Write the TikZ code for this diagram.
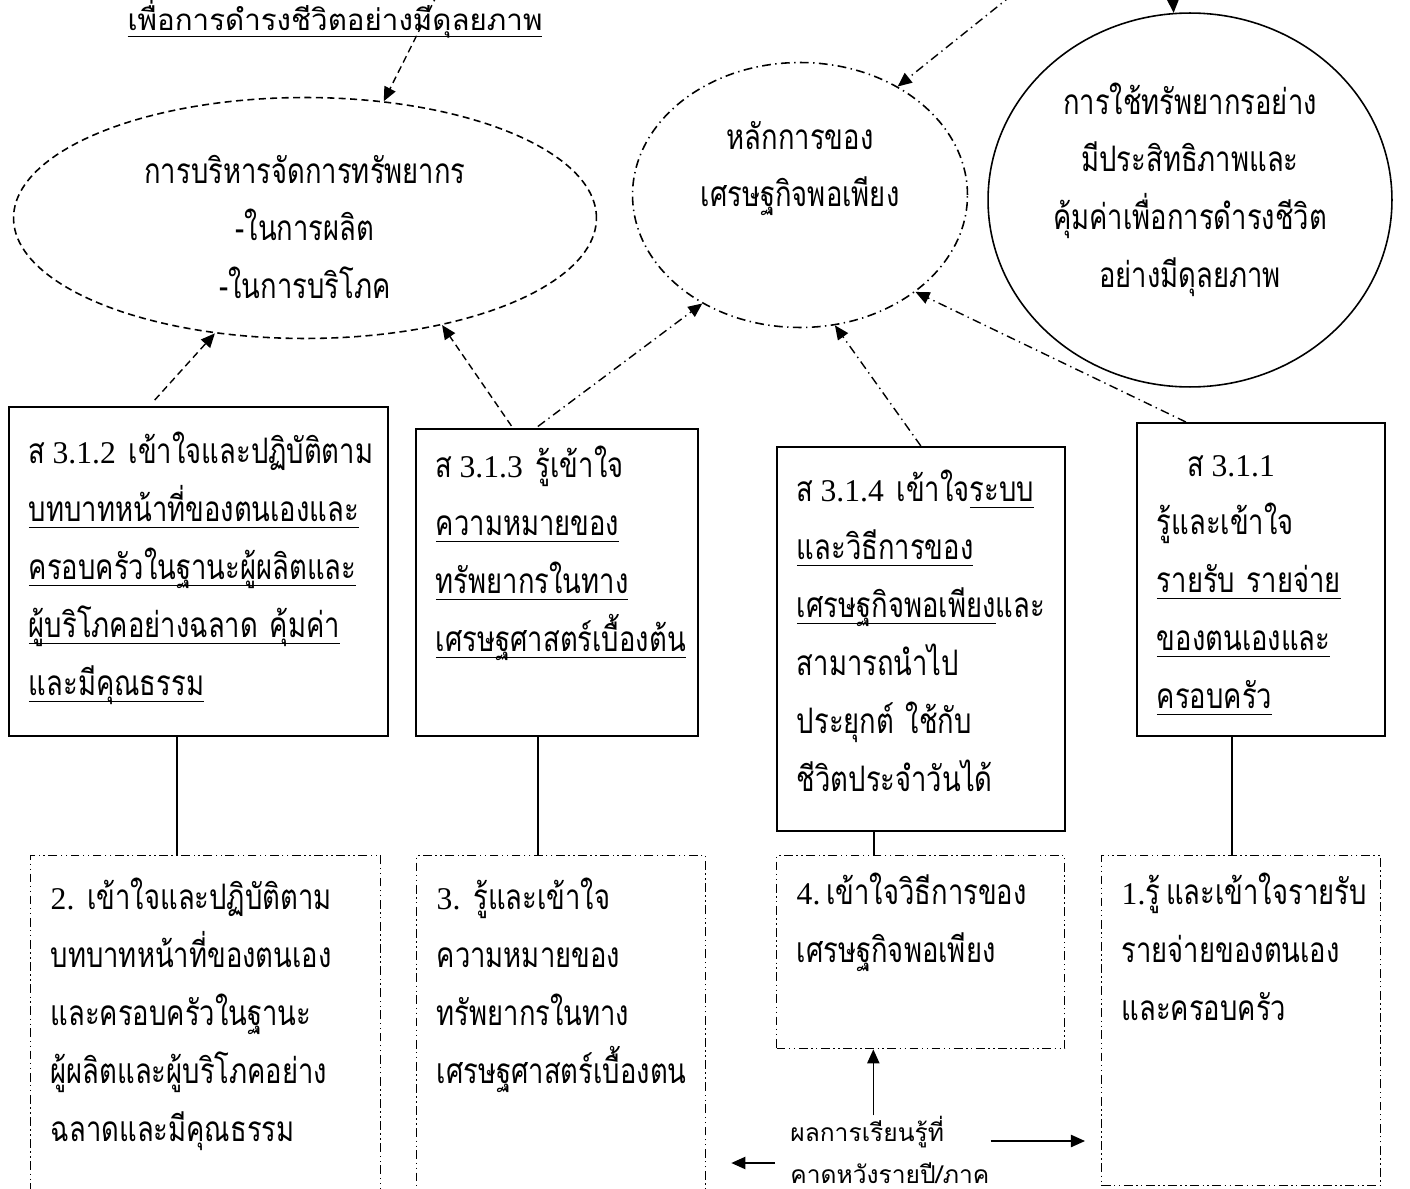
\documentclass[tikz,border=0pt]{standalone}
\usepackage{fontspec}
\usepackage{tikz}
\usetikzlibrary{arrows.meta, positioning, shapes.geometric}
\newfontfamily\thaiserif[Script=Thai, FakeStretch=0.78]{Loma}
\newfontfamily\thaisans[Script=Thai]{Loma}
\newfontfamily\latinserif{Liberation Serif}
\newcommand\ulthai[1]{\leavevmode\sbox0{#1}\rlap{\rule[-3.5pt]{\wd0}{0.7pt}}\usebox0}
\newcommand\stdno[1]{{\latinserif\fontsize{18}{33}\selectfont #1}}

\begin{document}
\begin{tikzpicture}[
  x=0.02cm, y=-0.02cm,
  font=\thaiserif\fontsize{20}{33}\selectfont,
  goal/.style={ellipse, draw, line width=0.9pt, align=center, inner sep=0pt},
  frame/.style={rectangle, draw, line width=1pt, align=left, anchor=north west, inner xsep=0.4cm, inner ysep=0pt},
  outcome/.style={frame, line width=0.8pt, dash pattern=on 5pt off 2pt on 0.8pt off 2pt on 0.8pt off 2pt},
  dashline/.style={dash pattern=on 4pt off 2.5pt},
  dotline/.style={dash pattern=on 5pt off 2.5pt on 0.8pt off 2.5pt},
  link/.style={-{Triangle[length=8pt, width=7pt]}, line width=0.8pt},
  stem/.style={line width=0.8pt}
]
\useasboundingbox (0,0) rectangle (1410,1189);

% top goals
\node[font=\thaisans\fontsize{16.8}{20}\selectfont, anchor=base] (title) at (335,31) {\ulthai{เพื่อการดำรงชีวิตอย่างมีดุลยภาพ}};
\node[goal, dashline, minimum width=11.66cm, minimum height=4.82cm, text width=8cm, text height=0.5cm, text depth=1.9cm] (manage) at (305,218) {การบริหารจัดการทรัพยากร\\-ในการผลิต\\-ในการบริโภค};
\node[goal, dotline, minimum width=6.7cm, minimum height=5.3cm, text width=4.5cm, text height=0.48cm, text depth=2.32cm] (principle) at (800,195) {หลักการของ\\เศรษฐกิจพอเพียง};
\node[goal, minimum width=8.08cm, minimum height=7.48cm, text width=5.6cm, text height=0.28cm, text depth=3.72cm] (balance) at (1190,200) {การใช้ทรัพยากรอย่าง\\มีประสิทธิภาพและ\\คุ้มค่าเพื่อการดำรงชีวิต\\อย่างมีดุลยภาพ};

% standards
\node[frame, text width=6.78cm, text height=1.14cm, text depth=5.44cm] (boxA) at (8,406) {ส\kern0.14cm\stdno{3.1.2}\kern0.26cm เข้าใจและปฏิบัติตาม\\\ulthai{บทบาทหน้าที่ของตนเองและ}\\\ulthai{ครอบครัวในฐานะผู้ผลิตและ}\\\ulthai{ผู้บริโภคอย่างฉลาด คุ้มค่า}\\\ulthai{และมีคุณธรรม}};
\node[frame, text width=4.84cm, text height=0.98cm, text depth=5.16cm] (boxB) at (415,428) {ส\kern0.14cm\stdno{3.1.3}\kern0.26cm รู้เข้าใจ\\\ulthai{ความหมายของ}\\\ulthai{ทรัพยากรในทาง}\\\ulthai{เศรษฐศาสตร์เบื้องต้น}};
\node[frame, text width=4.96cm, text height=1.1cm, text depth=6.58cm] (boxC) at (776,446) {ส\kern0.14cm\stdno{3.1.4}\kern0.26cm เข้าใจ\ulthai{ระบบ}\\\ulthai{และวิธีการของ}\\\ulthai{เศรษฐกิจพอเพียง}และ\\สามารถนำไป\\ประยุกต์ ใช้กับ\\ชีวิตประจำวันได้};
\node[frame, text width=4.16cm, text height=1.08cm, text depth=5.18cm] (boxD) at (1136,422) {\hspace*{0.62cm}ส\kern0.14cm\stdno{3.1.1}\\รู้และเข้าใจ\\\ulthai{รายรับ รายจ่าย}\\\ulthai{ของตนเองและ}\\\ulthai{ครอบครัว}};

% yearly outcomes
\node[outcome, text width=6.2cm, text height=1.08cm, text depth=5.82cm] (boxE) at (30,855) {\stdno{2.}\kern0.26cm เข้าใจและปฏิบัติตาม\\บทบาทหน้าที่ของตนเอง\\และครอบครัวในฐานะ\\ผู้ผลิตและผู้บริโภคอย่าง\\ฉลาดและมีคุณธรรม};
\node[outcome, text width=4.98cm, text height=1.08cm, text depth=5.82cm] (boxF) at (416,855) {\stdno{3.}\kern0.26cm รู้และเข้าใจ\\ความหมายของ\\ทรัพยากรในทาง\\เศรษฐศาสตร์เบื้องตน};
\node[outcome, text width=4.96cm, text height=0.98cm, text depth=2.88cm] (boxG) at (776,855) {\stdno{4.}\kern0.12cm เข้าใจวิธีการของ\\เศรษฐกิจพอเพียง};
\node[outcome, text width=4.78cm, text height=0.98cm, text depth=5.62cm] (boxH) at (1101,855) {\stdno{1.}รู้\kern0.12cm และเข้าใจรายรับ\\รายจ่ายของตนเอง\\และครอบครัว};
\node[font=\thaisans\fontsize{14}{24}\selectfont, text width=4cm, align=left, inner sep=0pt, anchor=base west] (expect) at (790,1141) {ผลการเรียนรู้ที่\\คาดหวังรายปี/ภาค};

% arrows into the goals
\coordinate (fromtop) at (437,-5);
\coordinate (fromtopright) at (1012,-5);
\coordinate (intop) at (1172,-20);
\draw[link, dashline] (fromtop) -- (manage.56);
\draw[link, dotline] (fromtopright) -- (principle.48);
\draw[link] (intop) -- (balance.95);
\draw[link, dashline, shorten <=0.16cm] ([xshift=-0.98cm]boxA.north) -- (manage.232);
\draw[link, dashline, shorten <=0.05cm] ([xshift=-0.88cm]boxB.north) -- (manage.322);
\draw[link, dotline, shorten <=0.05cm] ([xshift=-0.42cm]boxB.north) -- (principle.228);
\draw[link, dotline] (boxC.north) -- (principle.285);
\draw[link, dotline] ([xshift=-1.5cm]boxD.north) -- (principle.320);

% stems and outcome arrows
\foreach \up/\down/\dx in {boxA/boxE/-0.43cm, boxB/boxF/-0.38cm, boxC/boxG/-0.94cm, boxD/boxH/-0.58cm}
  \draw[stem] ([xshift=\dx]\up.south) coordinate (joint) -- (joint |- \down.north);
\path ([xshift=-0.34cm]expect.north) coordinate (rise);
\draw[link] (rise) -- (rise |- boxG.south);
\draw[link, shorten >=0.32cm] (expect.base east) -- (expect.base east -| boxH.west);
\path ([shift={(-15,22)}]expect.base west) coordinate (back);
\draw[link, shorten >=0.5cm] (back) -- (back -| boxF.east);
\end{tikzpicture}
\end{document}
